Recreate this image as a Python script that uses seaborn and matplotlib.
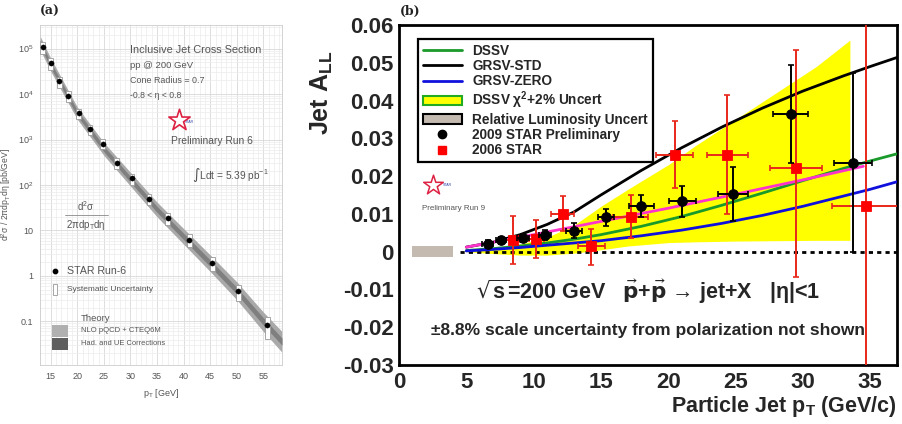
import matplotlib
matplotlib.use("Agg")
import matplotlib.pyplot as plt
import seaborn as sns
import numpy as np
import pandas as pd
from matplotlib.lines import Line2D
from matplotlib.patches import Patch, Rectangle
from matplotlib.ticker import MultipleLocator, FixedLocator, NullFormatter

# ---------------- Panel (a): inclusive jet cross section ----------------
a_pt = [13.5, 15.0, 16.6, 18.3, 20.3, 22.4, 24.8, 27.4, 30.3, 33.5, 37.0, 41.1, 45.4, 50.3, 55.7]
a_xsec = [1.07e5, 4.8e4, 1.9e4, 9.1e3, 3.8e3, 1.7e3, 8.1e2, 3.1e2, 1.4e2, 50, 18.6, 6.3, 1.96, 0.46, 0.083]
a_sys_rel = [0.30, 0.28, 0.27, 0.26, 0.25, 0.25, 0.25, 0.26, 0.27, 0.28, 0.30, 0.32, 0.35, 0.40, 0.50]

th_pt = [13, 15, 20, 25, 30, 35, 40, 45, 50, 55, 58.5]
th_light_lo = [0.95e5, 3.2e4, 2.8e3, 4.5e2, 95, 20, 5.0, 1.25, 0.30, 0.060, 0.021]
th_light_hi = [1.9e5, 6.2e4, 5.2e3, 8.6e2, 190, 42, 11, 2.9, 0.74, 0.16, 0.060]
th_dark_lo = [1.15e5, 3.8e4, 3.3e3, 5.4e2, 115, 25, 6.3, 1.6, 0.40, 0.083, 0.030]
th_dark_hi = [1.55e5, 5.1e4, 4.4e3, 7.2e2, 155, 34, 8.7, 2.25, 0.56, 0.12, 0.043]

a_xticks = [15, 20, 25, 30, 35, 40, 45, 50, 55]
a_yticks = [0.1, 1, 10, 1e2, 1e3, 1e4, 1e5]
a_yticklabels = ["0.1", "1", "10", "10$^2$", "10$^3$", "10$^4$", "10$^5$"]

# ---------------- Panel (b): jet A_LL ----------------
curve_x = [5, 7, 9, 11, 13, 15, 18, 21, 24, 27, 30, 33, 35, 37]
grsv_std = [0.0012, 0.0025, 0.0045, 0.0072, 0.0105, 0.0150, 0.0215, 0.0275, 0.0330, 0.0380, 0.0425, 0.0465, 0.0490, 0.0514]
dssv = [0.0003, 0.0008, 0.0015, 0.0023, 0.0033, 0.0045, 0.0067, 0.0093, 0.0123, 0.0155, 0.0188, 0.0220, 0.0240, 0.0259]
grsv_zero = [0.0002, 0.0006, 0.0011, 0.0017, 0.0023, 0.0029, 0.0042, 0.0057, 0.0075, 0.0096, 0.0120, 0.0147, 0.0165, 0.0185]

pink_x = [5, 10, 15, 20, 25, 30, 34.5]
pink_y = [0.0012, 0.0045, 0.0080, 0.0115, 0.0152, 0.0190, 0.0226]

band_x = [5, 7, 9, 11, 13, 15, 17, 20, 22, 25, 28, 31, 33.5]
band_lo = [0.0, -0.0005, -0.0009, -0.0009, -0.0004, 0.0005, 0.0015, 0.0024, 0.0026, 0.0028, 0.0029, 0.0030, 0.0030]
band_hi = [0.0005, 0.0010, 0.0020, 0.0038, 0.0070, 0.0120, 0.0165, 0.0230, 0.0280, 0.0350, 0.0420, 0.0490, 0.0560]

lumi_x = [1.0, 4.0]
lumi_unc = 0.0014

star09_x = [6.58, 7.57, 9.23, 10.85, 13.0, 15.4, 18.0, 21.05, 24.8, 29.1, 33.75]
star09_y = [0.0020, 0.0030, 0.0036, 0.0045, 0.0056, 0.0091, 0.0121, 0.0133, 0.0153, 0.0364, 0.0236]
star09_xerr = [0.4, 0.4, 0.45, 0.45, 0.6, 0.6, 0.93, 1.0, 1.1, 1.3, 1.4]
star09_yerr = [0.0010, 0.0010, 0.0010, 0.0013, 0.0020, 0.0022, 0.0030, 0.0040, 0.0072, 0.0129, 0.0236]

star06_x = [8.44, 10.2, 12.16, 14.3, 17.2, 20.5, 24.4, 29.5, 34.7]
star06_y = [0.0030, 0.0034, 0.0100, 0.0014, 0.0093, 0.0256, 0.0256, 0.0221, 0.0122]
star06_xerr = [0.55, 0.55, 0.87, 1.0, 1.3, 1.37, 1.55, 1.9, 2.5]
star06_yerr_lo = [0.0063, 0.0050, 0.0046, 0.0048, 0.0057, 0.0088, 0.0156, 0.0289, 0.0600]
star06_yerr_hi = [0.0065, 0.0051, 0.0048, 0.0047, 0.0058, 0.0090, 0.0159, 0.0313, 0.0600]

b_yticks = [-0.03, -0.02, -0.01, 0.0, 0.01, 0.02, 0.03, 0.04, 0.05, 0.06]
b_yticklabels = ["-0.03", "-0.02", "-0.01", "0", "0.01", "0.02", "0.03", "0.04", "0.05", "0.06"]
b_xticks = [0, 5, 10, 15, 20, 25, 30, 35]

legend_labels = ["DSSV", "GRSV-STD", "GRSV-ZERO", "DSSV $\\chi^2$+2% Uncert",
                 "Relative Luminosity Uncert", "2009 STAR Preliminary", "2006 STAR"]

# ---------------- styling ----------------
sns.set_theme(style="white")
plt.rcParams["font.family"] = ["Liberation Sans", "DejaVu Sans"]
plt.rcParams["mathtext.default"] = "regular"

fig = plt.figure(figsize=(9.02, 4.24), dpi=100)
axA = fig.add_axes([40 / 902, 1 - 365 / 424, 242 / 902, 340 / 424])
axB = fig.add_axes([399 / 902, 1 - 365 / 424, 498 / 902, 340 / 424])

# ======== Panel (a) ========
gcol = "#555555"
axA.set_yscale("log")
axA.set_xlim(13, 58.5)
axA.set_ylim(0.011, 3.3e5)
axA.fill_between(th_pt, th_light_lo, th_light_hi, color="#a9a9a9", lw=0, zorder=2)
axA.fill_between(th_pt, th_dark_lo, th_dark_hi, color="#7f7f7f", lw=0, zorder=3)
for x, y, r in zip(a_pt, a_xsec, a_sys_rel):
    axA.add_patch(Rectangle((x - 0.45, y * (1 - r)), 0.9, y * 2 * r, facecolor="white",
                            edgecolor="#999999", lw=0.6, zorder=4))
dfA = pd.DataFrame({"pt": a_pt, "xsec": a_xsec})
sns.scatterplot(data=dfA, x="pt", y="xsec", ax=axA, color="black", s=14, marker="o",
                edgecolor="black", zorder=5, legend=False)
axA.xaxis.set_major_locator(FixedLocator(a_xticks))
axA.xaxis.set_minor_locator(MultipleLocator(1))
axA.yaxis.set_major_locator(FixedLocator(a_yticks))
axA.set_yticklabels(a_yticklabels)
axA.yaxis.set_minor_formatter(NullFormatter())
axA.grid(True, which="major", color="#d8d8d8", lw=0.6)
axA.grid(True, which="minor", color="#ececec", lw=0.5)
axA.set_axisbelow(True)
for s in axA.spines.values():
    s.set_color("#cccccc")
    s.set_linewidth(0.6)
axA.tick_params(axis="both", which="major", labelsize=6.5, labelcolor=gcol, length=2,
                color="#aaaaaa", pad=3)
axA.tick_params(axis="both", which="minor", length=0)
axA.set_xlabel("p$_T$ [GeV]", fontsize=6.5, color=gcol, labelpad=4)
axA.set_ylabel("d$^2$σ / 2πdp$_T$dη [pb/GeV]", fontsize=6.2, color=gcol, labelpad=3)

def ta(x, y, s, **kw):
    kw.setdefault("color", gcol)
    axA.text(x, y, s, transform=axA.transAxes, **kw)

ta(0.372, 0.926, "Inclusive Jet Cross Section", fontsize=7.8, va="center")
ta(0.372, 0.882, "pp @ 200 GeV", fontsize=6.8, va="center")
ta(0.372, 0.838, "Cone Radius = 0.7", fontsize=6.4, va="center")
ta(0.372, 0.794, "-0.8 < η < 0.8", fontsize=6.2, va="center")
axA.scatter([0.575], [0.72], marker="*", s=260, facecolor="white", edgecolor="#dd2244",
            linewidth=1.2, transform=axA.transAxes, zorder=6)
ta(0.60, 0.715, "STAR", fontsize=2.5, color="#3344aa", va="center")
ta(0.54, 0.659, "Preliminary Run 6", fontsize=7.4, va="center")
ta(0.63, 0.56, "$\\int$Ldt = 5.39 pb$^{-1}$", fontsize=7.3, va="center")
ta(0.19, 0.468, "d$^2$σ", fontsize=7, ha="center", va="center")
axA.plot([0.105, 0.28], [0.441, 0.441], color="#888888", lw=0.6, transform=axA.transAxes)
ta(0.19, 0.412, "2πdp$_T$dη", fontsize=7, ha="center", va="center")
axA.scatter([0.062], [0.276], marker="o", s=10, color="black", transform=axA.transAxes)
ta(0.112, 0.276, "STAR Run-6", fontsize=7.6, va="center")
axA.add_patch(Rectangle((0.054, 0.205), 0.016, 0.032, facecolor="white", edgecolor="#999999",
                        lw=0.6, transform=axA.transAxes))
ta(0.112, 0.221, "Systematic Uncertainty", fontsize=6, va="center")
ta(0.169, 0.138, "Theory", fontsize=6.8, va="center")
axA.add_patch(Rectangle((0.05, 0.083), 0.066, 0.035, facecolor="#b0b0b0", edgecolor="none",
                        transform=axA.transAxes))
ta(0.169, 0.100, "NLO pQCD + CTEQ6M", fontsize=5.5, va="center")
axA.add_patch(Rectangle((0.05, 0.044), 0.066, 0.035, facecolor="#5e5e5e", edgecolor="none",
                        transform=axA.transAxes))
ta(0.169, 0.062, "Had. and UE Corrections", fontsize=5.4, va="center")
fig.text(40 / 902, 1 - 11 / 424, "(a)", fontsize=9, fontweight="bold", family="DejaVu Serif",
         va="center", color="#222222")

# ======== Panel (b) ========
bold = {"fontweight": "bold"}
axB.set_xlim(0, 37)
axB.set_ylim(-0.03, 0.06)

axB.fill_between(band_x, band_lo, band_hi, color="#ffff00", lw=0, zorder=1)
axB.fill_between(lumi_x, [-lumi_unc] * 2, [lumi_unc] * 2, color="#c4bab0", lw=0, zorder=1)
axB.axhline(0, xmin=(4.5 - 0) / 37, xmax=1, color="black", lw=2, ls=(0, (1.5, 1.5)), zorder=2)

dfC = pd.DataFrame({"x": curve_x, "std": grsv_std, "dssv": dssv, "zero": grsv_zero})
sns.lineplot(data=dfC, x="x", y="std", ax=axB, color="black", lw=2, zorder=3)
sns.lineplot(data=dfC, x="x", y="dssv", ax=axB, color="#1a9a2a", lw=2, zorder=3)
sns.lineplot(data=dfC, x="x", y="zero", ax=axB, color="#1010dd", lw=2, zorder=3)
sns.lineplot(x=pink_x, y=pink_y, ax=axB, color="#ff33cc", lw=2, zorder=3)

axB.errorbar(star06_x, star06_y, xerr=star06_xerr, yerr=[star06_yerr_lo, star06_yerr_hi],
             fmt="none", ecolor="#e8281a", elinewidth=1.4, capsize=2, capthick=1.2, zorder=4)
sns.scatterplot(x=star06_x, y=star06_y, ax=axB, marker="s", s=55, color="#ff0000",
                edgecolor="#ff0000", zorder=5, legend=False)
axB.errorbar(star09_x, star09_y, xerr=star09_xerr, yerr=star09_yerr, fmt="none",
             ecolor="black", elinewidth=1.4, capsize=2, capthick=1.2, zorder=6)
sns.scatterplot(x=star09_x, y=star09_y, ax=axB, marker="o", s=50, color="black",
                edgecolor="black", zorder=7, legend=False)

axB.set_xlabel("")
axB.set_ylabel("")
axB.xaxis.set_major_locator(FixedLocator(b_xticks))
axB.xaxis.set_minor_locator(MultipleLocator(1))
axB.yaxis.set_major_locator(FixedLocator(b_yticks))
axB.set_yticklabels(b_yticklabels)
axB.yaxis.set_minor_locator(MultipleLocator(0.002))
for s in axB.spines.values():
    s.set_color("black")
    s.set_linewidth(2)
axB.tick_params(axis="both", which="major", direction="in", length=13, width=1.8,
                color="black", labelsize=16)
axB.tick_params(axis="y", which="major", pad=4)
axB.tick_params(axis="x", which="major", pad=5)
axB.tick_params(axis="both", which="minor", direction="in", length=7, width=1.5, color="black")
for lab in axB.get_xticklabels() + axB.get_yticklabels():
    lab.set_fontweight("bold")
axB.grid(False)
axB.set_xlabel("Particle Jet p$_T$ (GeV/c)", fontsize=15.5, loc="right", labelpad=1, **bold)
axB.set_ylabel("Jet A$_{LL}$", fontsize=18, **bold)
axB.yaxis.set_label_coords(-0.128, 0.80)

handles = [
    Line2D([], [], color="#1a9a2a", lw=2),
    Line2D([], [], color="black", lw=2),
    Line2D([], [], color="#1010dd", lw=2),
    Patch(facecolor="#ffff00", edgecolor="#22aa22", lw=1.5),
    Patch(facecolor="#c4bab0", edgecolor="black", lw=1.5),
    Line2D([], [], color="black", marker="o", ls="", ms=6),
    Line2D([], [], color="#ff0000", marker="s", ls="", ms=6),
]
leg = axB.legend(handles, legend_labels, loc="upper left", bbox_to_anchor=(0.038, 0.959),
                 borderaxespad=0, frameon=True, fancybox=False, edgecolor="black",
                 framealpha=1, prop={"weight": "bold", "size": 9.8}, handlelength=2.9,
                 handleheight=0.7, handletextpad=0.75, labelspacing=0.1, borderpad=0.35)
leg.get_frame().set_linewidth(1.6)
leg.set_zorder(10)

axB.text(0.5, 0.215, "$\\sqrt{s}$=200 GeV   $\\vec{\\mathbf{p}}$+$\\vec{\\mathbf{p}}$ → jet+X   |η|<1",
         transform=axB.transAxes, fontsize=15.5, ha="center", va="center", **bold)
axB.text(0.5, 0.100, "±8.8% scale uncertainty from polarization not shown",
         transform=axB.transAxes, fontsize=12.5, ha="center", va="center", **bold)
axB.scatter([0.068], [0.53], marker="*", s=220, facecolor="white", edgecolor="#dd2244",
            linewidth=1.1, transform=axB.transAxes, zorder=6)
axB.text(0.088, 0.525, "STAR", transform=axB.transAxes, fontsize=2.5, color="#3344aa")
axB.text(0.046, 0.46, "Preliminary Run 9", transform=axB.transAxes, fontsize=5.8,
         color="#555555", va="center")
fig.text(400 / 902, 1 - 11 / 424, "(b)", fontsize=9, fontweight="bold", family="DejaVu Serif",
         va="center", color="#222222")

fig.savefig("out.png", dpi=100)
